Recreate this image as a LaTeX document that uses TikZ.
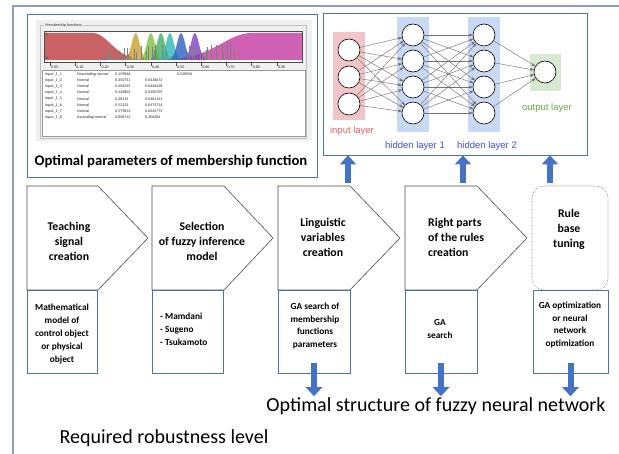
\documentclass[tikz,border=0pt]{standalone}
\usepackage{fontspec}
\setmainfont{Carlito}
\newfontfamily\arialfont{Liberation Sans}
\usetikzlibrary{arrows.meta,positioning}

\definecolor{framegray}{HTML}{8C9DBD}
\definecolor{boxblue}{HTML}{4F70B0}
\definecolor{arrowblue}{HTML}{4472C4}
\definecolor{inred}{HTML}{F2C6C6}
\definecolor{hidblue}{HTML}{C8D9F5}
\definecolor{outgreen}{HTML}{D7E9CF}
\definecolor{labred}{HTML}{E06262}
\definecolor{labblue}{HTML}{4050C8}
\definecolor{labgreen}{HTML}{6AA84F}
\definecolor{panelgray}{HTML}{F0F0F0}
\definecolor{mfred}{HTML}{C04848}
\definecolor{mfmag}{HTML}{C845A8}
\definecolor{mfgold}{HTML}{C8A030}
\definecolor{mfgreen}{HTML}{80C040}
\definecolor{mfgreen2}{HTML}{40B060}
\definecolor{mfcyan}{HTML}{30B8B8}
\definecolor{mfblue}{HTML}{3060C0}
\definecolor{mfpurple}{HTML}{8040C0}

\begin{document}
\begin{tikzpicture}[x=1pt,y=-1pt,
	neuron/.style={shape=circle,draw=black,fill=white,minimum size=22pt,inner sep=0pt,line width=0.6pt},
	syn/.style={-{Stealth[length=4pt,width=3pt]},draw=black!55,line width=0.45pt},
	chev/.style={draw=black!70,line width=0.6pt},
	steptext/.style={font=\fontsize{11.8}{15}\selectfont\bfseries,align=center,inner sep=0pt},
	lowbox/.style={draw=boxblue,line width=0.7pt,inner sep=0pt},
	lowtext/.style={font=\fontsize{9.3}{12.8}\selectfont\bfseries,align=center,inner sep=0pt},
	bigarrow/.style={draw=arrowblue,line width=6pt,-{Triangle[width=16pt,length=9pt]}},
	layerlab/.style={font=\arialfont\fontsize{9.5}{11}\selectfont,inner sep=0pt},
	tab/.style={font=\fontsize{4}{4.5}\selectfont,anchor=west,inner sep=0pt,text=black!85}]
	\useasboundingbox (0,0) rectangle (619,454);
	\fill[white] (0,0) rectangle (619,454);
	
	% outer frame
	\draw[framegray,line width=1.2pt] (619,6) -- (13,6) -- (13,454);
	
	% membership function window
	\node[draw=boxblue,line width=0.8pt,minimum width=290pt,minimum height=163pt] (mfbox) at (172,95.5) {};
	\fill[panelgray] (36,20) rectangle (312,141);
	\draw[black!25,line width=0.4pt] (40,25) rectangle (306,138);
	\node[tab,fill=panelgray,inner xsep=1pt] (mflab) at (44,25) {Membership functions};
	\fill[white] (44,31) rectangle (302,62);
	\begin{scope}
		\clip (44,31) rectangle (302,62);
		\fill[mfred,opacity=.85] (44,60) -- (44,33) -- plot[domain=0.17:0.5,samples=30] ({50+252*\x},{60-27*exp(-0.5*((\x-0.17)/0.07)^2)}) -- (176,60) -- cycle;
		\fill[mfmag,opacity=.85] (163,60) -- plot[domain=0.45:0.80,samples=30] ({50+252*\x},{60-27*exp(-0.5*((\x-0.80)/0.12)^2)}) -- (302,33) -- (302,60) -- cycle;
		\foreach \c/\col in {0.34/mfgold,0.40/mfgreen,0.44/mfgreen2,0.476/mfcyan,0.52/mfblue,0.575/mfpurple}
			\fill[\col,opacity=.8] plot[domain=-0.05:0.05,samples=25] ({50+252*(\c+\x)},{60-27*exp(-0.5*(\x*62.5)^2)}) -- cycle;
		\pgfmathsetseed{7}
		\foreach \i in {1,...,45}
			\draw[black!50,line width=0.3pt] ({50+252*(0.2+0.55*rnd)},60) -- ++(0,{-(2+14*rnd)});
	\end{scope}
	\draw[black!70,line width=0.4pt] (44,31) rectangle (302,62);
	\node[tab] (y1) at (45.5,34) {1};
	\node[tab] (y0) at (45.5,58) {0};
	\foreach \t in {0,...,9} {
		\draw[black!70,line width=0.3pt] ({50+25.2*\t},62) -- ++(0,4);
		\node[tab] (tk\t) at ({51+25.2*\t},67.5) {0.\t0};
	}
	\fill[white] (42,70) rectangle (305,136);
	\draw[black!40,line width=0.4pt] (42,70) rectangle (305,136);
	\foreach \n/\kind/\pa/\pb [count=\r] in {1/Descending normal/0.159846/{},2/Normal/0.350741/0.0618672,3/Normal/0.404235/0.0446428,4/Normal/0.444803/0.0300709,5/Normal/0.48113/0.0361141,6/Normal/0.52333/0.0475714,7/Normal/0.579814/0.0645773,8/Ascending normal/0.806712/0.206206} {
		\node[tab] (rn\r) at (45,{74+6.2*(\r-1)}) {input\_1\_\n};
		\node[tab] (rk\r) at (77,{74+6.2*(\r-1)}) {\kind};
		\node[tab] (ra\r) at (115,{74+6.2*(\r-1)}) {\pa};
		\node[tab] (rb\r) at (145,{74+6.2*(\r-1)}) {\pb};
	}
	\node[tab] (rc1) at (177,74) {0.318504};
	\node[font=\fontsize{14.7}{16}\selectfont\bfseries,inner sep=0pt] (mftitle) at (171,161) {Optimal parameters of membership function};
	
	% neural network
	\node[draw=boxblue,line width=0.8pt,minimum width=264pt,minimum height=142pt] (nn) at (455,84) {};
	\fill[inred] (333,32) rectangle (365,120);
	\fill[hidblue] (397,17) rectangle (429,132);
	\fill[hidblue] (468,17) rectangle (500,132);
	\fill[outgreen] (530,54) rectangle (561,91);
	\node[neuron] (i1) at (349,50) {};
	\node[neuron] (i2) at (349,77) {};
	\node[neuron] (i3) at (349,104) {};
	\node[neuron] (h1) at (413,35) {};
	\node[neuron] (h2) at (413,61) {};
	\node[neuron] (h3) at (413,87) {};
	\node[neuron] (h4) at (413,113) {};
	\node[neuron] (g1) at (484,35) {};
	\node[neuron] (g2) at (484,61) {};
	\node[neuron] (g3) at (484,87) {};
	\node[neuron] (g4) at (484,113) {};
	\node[neuron] (o1) at (545,72) {};
	\foreach \a in {1,2,3}
		\foreach \b in {1,...,4}
			\path[syn] (i\a) edge (h\b);
	\foreach \a in {1,...,4}
		\foreach \b in {1,...,4}
			\path[syn] (h\a) edge (g\b);
	\foreach \a in {1,...,4}
		\path[syn] (g\a) edge (o1);
	\node[layerlab,text=labred] (inlab) at (352,131) {input layer};
	\node[layerlab,text=labblue] (h1lab) at (415,146) {hidden layer 1};
	\node[layerlab,text=labblue] (h2lab) at (487,146) {hidden layer 2};
	\node[layerlab,text=labgreen] (outlab) at (547,108) {output layer};
	
	% steps
	\draw[chev] (27,186) -- (98,186) -- (148,238) -- (98,290) -- (27,290) -- cycle;
	\draw[chev] (152,186) -- (224,186) -- (273,238) -- (224,290) -- (152,290) -- cycle;
	\draw[chev] (278,186) -- (350,186) -- (400,238) -- (350,290) -- (278,290) -- cycle;
	\draw[chev] (405,186) -- (477,186) -- (527,238) -- (477,290) -- (405,290) -- cycle;
	\draw[black!55,densely dotted,line width=0.6pt,rounded corners=12pt] (532,186) rectangle (608,290);
	\node[steptext] (s1) at (69,241) {Teaching\\signal\\creation};
	\node[steptext] (s2) at (202,241) {Selection\\of fuzzy inference\\model};
	\node[steptext] (s3) at (323,237) {Linguistic\\variables\\creation};
	\node[steptext,align=left,anchor=west] (s4) at (428,237) {Right parts\\of the rules\\creation};
	\node[steptext] (s5) at (569,229) {Rule\\base\\tuning};
	
	% lower boxes
	\node[lowbox,minimum width=70pt,minimum height=83pt] (lb1) at (62,331.5) {};
	\node[lowbox,minimum width=71pt,minimum height=83pt] (lb2) at (187.5,331.5) {};
	\node[lowbox,minimum width=72pt,minimum height=83pt] (lb3) at (314,331.5) {};
	\node[lowbox,minimum width=72pt,minimum height=83pt] (lb4) at (441,331.5) {};
	\node[lowbox,minimum width=75pt,minimum height=83pt] (lb5) at (570.5,331.5) {};
	\node[lowtext] (t1) at (62,334) {Mathematical\\model of\\control object\\or physical\\object};
	\node[lowtext,align=left,anchor=west] (t2) at (160,329) {- Mamdani\\- Sugeno\\- Tsukamoto};
	\node[lowtext] (t3) at (315,326) {GA search of\\membership\\functions\\parameters};
	\node[lowtext] (t4) at (440,329) {GA\\search};
	\node[lowtext] (t5) at (570,325) {GA optimization\\or neural\\network\\optimization};
	
	% results
	\node[font=\fontsize{20}{22}\selectfont,inner sep=1pt] (fnn) at (436,406) {Optimal structure of fuzzy neural network};
	\node[font=\fontsize{20}{22}\selectfont,inner sep=1pt] (rob) at (164,438) {Required robustness level};
	
	% block arrows
	\coordinate (u1) at (348,183);
	\coordinate (u2) at (463,183);
	\coordinate (u3) at (550,183);
	\draw[bigarrow] (u1) -- (u1 |- nn.south);
	\draw[bigarrow] (u2) -- (u2 |- nn.south);
	\draw[bigarrow] (u3) -- (u3 |- nn.south);
	\draw[bigarrow] ([yshift=10pt]lb3.south) -- (lb3.south |- fnn.north);
	\draw[bigarrow] ([yshift=10pt]lb4.south) -- (lb4.south |- fnn.north);
	\draw[bigarrow] ([yshift=10pt]lb5.south) -- (lb5.south |- fnn.north);
\end{tikzpicture}
\end{document}
